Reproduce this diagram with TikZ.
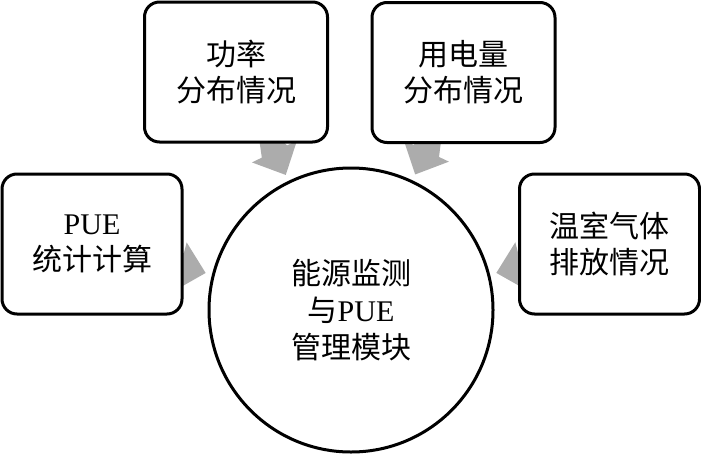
\documentclass[tikz,border=0pt]{standalone}
\usepackage{fontspec}
\setmainfont{Liberation Serif}
\newfontfamily\cjk{Noto Sans CJK SC}
\usetikzlibrary{calc,backgrounds}
\definecolor{arrowgray}{RGB}{172,172,172}
\tikzset{
  box/.style={draw=black, line width=3pt, rounded corners=15pt, fill=white,
    minimum width=180pt, minimum height=140pt, align=center, inner sep=0pt,
    font=\fontsize{30}{36}\selectfont},
  hub/.style={draw=black, line width=3pt, circle, fill=white, minimum size=284pt,
    align=center, inner sep=0pt, font=\fontsize{30}{37}\selectfont},
}
\newcommand{\grayarrow}[2]{%
  \coordinate (tip) at ($(#2)!150pt!(#1)$);
  \coordinate (hb) at ($(tip)!26pt!(#1)$);
  \fill[arrowgray] ($(#1)!14pt!90:(tip)$) -- ($(hb)!14pt!-90:(tip)$) --
    ($(hb)!25pt!-90:(tip)$) -- (tip) -- ($(hb)!25pt!90:(tip)$) --
    ($(hb)!14pt!90:(tip)$) -- ($(#1)!14pt!-90:(tip)$) -- cycle;}
\begin{document}
\begin{tikzpicture}[x=1pt,y=-1pt]
\useasboundingbox (0,0) rectangle (701,453);
\node[hub] (c) at (351,310) {{\cjk 能源监测}\\{\cjk 与}PUE\\{\cjk 管理模块}};
\node[box] (lb) at (92,244) {PUE\\{\cjk 统计计算}};
\node[box, minimum width=183pt] (tl) at (236,72) {{\cjk 功率}\\{\cjk 分布情况}};
\node[box, minimum width=183pt] (tr) at (463.5,72.5) {{\cjk 用电量}\\{\cjk 分布情况}};
\node[box] (rb) at (609.5,244) {{\cjk 温室气体}\\{\cjk 排放情况}};
\begin{pgfonlayer}{background}
\grayarrow{lb}{c}
\grayarrow{tl}{c}
\grayarrow{tr}{c}
\grayarrow{rb}{c}
\end{pgfonlayer}
\end{tikzpicture}
\end{document}
